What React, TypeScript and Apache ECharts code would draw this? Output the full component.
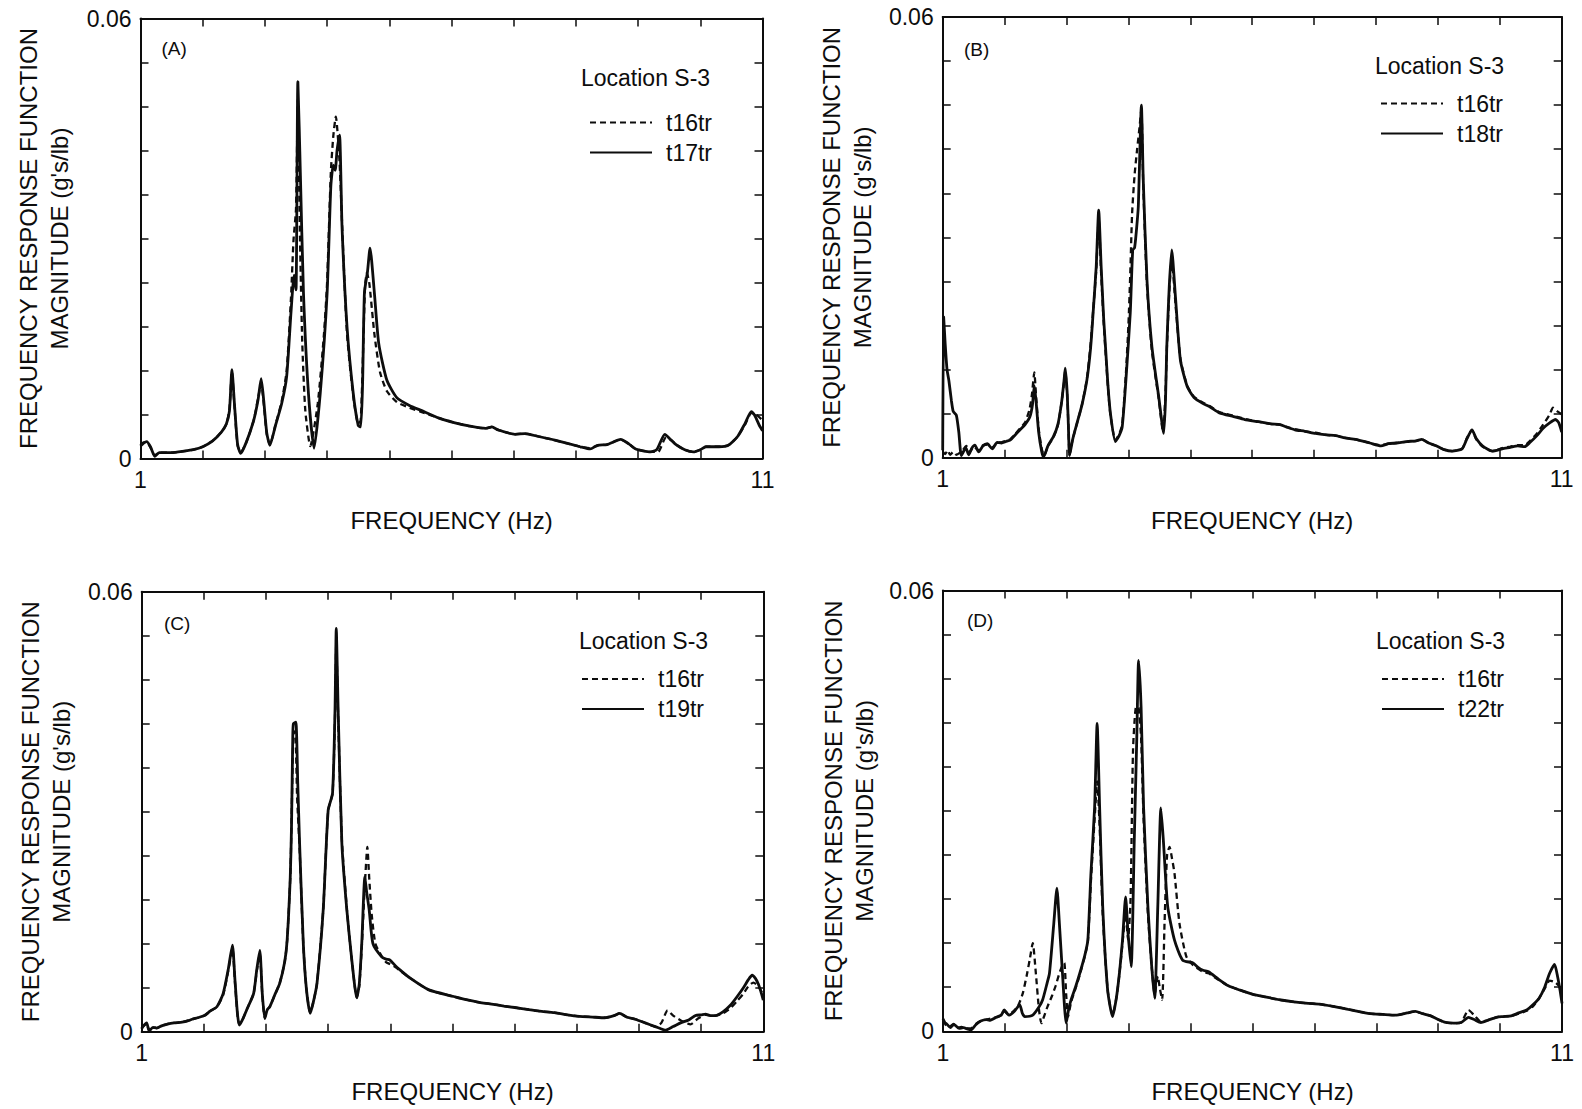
import React, { useEffect, useRef } from "react";
import * as echarts from "echarts";

const FONT = '"Liberation Sans", Arial, Helvetica, sans-serif';
const INK = "#0d0d0d";

// Axis ranges / ticks
const X_MIN = 1;
const X_MAX = 11;
const X_STEP = 1;
const X_LABELS = [1, 11];
const Y_MIN = 0;
const Y_MAX = 0.06;
const Y_STEP = 0.006;
const Y_LABELS = [0, 0.06];

const PANEL_TAGS = ["(A)", "(B)", "(C)", "(D)"];
const LOCATION = "Location S-3";
const REF_NAME = "t16tr";
const TEST_NAMES = ["t17tr", "t18tr", "t19tr", "t22tr"];

// ---------- Panel A ----------
const A_t16tr: [number, number][] = [
  [1.0, 0.0018], [1.05, 0.0022], [1.1, 0.0022], [1.16, 0.0015], [1.23, 0.0004], [1.3, 0.0008],
  [1.5, 0.0008], [1.7, 0.001], [1.85, 0.0012], [2.0, 0.0016], [2.16, 0.0024], [2.3, 0.0036],
  [2.38, 0.0047], [2.43, 0.0068], [2.47, 0.0118], [2.51, 0.0072], [2.56, 0.0018], [2.61, 0.0008],
  [2.7, 0.0022], [2.82, 0.0052], [2.89, 0.0082], [2.94, 0.0103], [2.98, 0.0076], [3.03, 0.0033],
  [3.08, 0.0019], [3.17, 0.0046], [3.27, 0.0078], [3.35, 0.012], [3.42, 0.022], [3.46, 0.0298],
  [3.5, 0.034], [3.53, 0.049], [3.56, 0.032], [3.6, 0.016], [3.65, 0.0065], [3.73, 0.0017],
  [3.85, 0.0075], [3.95, 0.017], [4.0, 0.024], [4.06, 0.039], [4.1, 0.044], [4.14, 0.0466],
  [4.2, 0.0405], [4.25, 0.03], [4.32, 0.017], [4.42, 0.0085], [4.5, 0.0048], [4.54, 0.0052],
  [4.58, 0.015], [4.61, 0.0235], [4.64, 0.0253], [4.68, 0.0238], [4.76, 0.017], [4.85, 0.0118],
  [4.96, 0.0092], [5.12, 0.0077], [5.33, 0.0069], [5.5, 0.0064], [5.8, 0.0055], [6.04, 0.0049],
  [6.3, 0.0044], [6.55, 0.0041], [6.65, 0.0043], [6.75, 0.0039], [7.02, 0.0033], [7.18, 0.0034],
  [7.4, 0.003], [7.66, 0.0025], [8.07, 0.0016], [8.23, 0.0014], [8.35, 0.0018], [8.5, 0.0019],
  [8.72, 0.0026], [8.85, 0.002], [8.96, 0.0013], [9.2, 0.0009], [9.32, 0.0009], [9.45, 0.0029],
  [9.55, 0.0024], [9.61, 0.0019], [9.75, 0.0012], [9.89, 0.0009], [10.0, 0.0012], [10.09, 0.0016],
  [10.3, 0.0016], [10.45, 0.0018], [10.6, 0.003], [10.72, 0.0046], [10.82, 0.0062], [10.9, 0.006],
  [11.0, 0.0052],
];
const A_t17tr: [number, number][] = [
  [1.0, 0.0017], [1.05, 0.0021], [1.1, 0.0023], [1.16, 0.0016], [1.23, 0.0003], [1.3, 0.0008],
  [1.5, 0.0008], [1.7, 0.001], [1.85, 0.0012], [2.0, 0.0016], [2.16, 0.0024], [2.3, 0.0036],
  [2.38, 0.0047], [2.43, 0.0065], [2.47, 0.0121], [2.51, 0.0075], [2.56, 0.002], [2.61, 0.0007],
  [2.7, 0.0022], [2.82, 0.0052], [2.89, 0.008], [2.94, 0.0109], [2.98, 0.008], [3.03, 0.0035],
  [3.08, 0.0018], [3.17, 0.0045], [3.27, 0.0075], [3.35, 0.0112], [3.42, 0.02], [3.47, 0.025],
  [3.5, 0.023], [3.53, 0.0514], [3.57, 0.0389], [3.62, 0.0226], [3.7, 0.0089], [3.79, 0.0014],
  [3.89, 0.0089], [4.0, 0.0225], [4.06, 0.0371], [4.1, 0.04], [4.13, 0.0393], [4.16, 0.042],
  [4.2, 0.0441], [4.24, 0.0316], [4.32, 0.018], [4.42, 0.0089], [4.5, 0.0045], [4.54, 0.0043],
  [4.57, 0.01], [4.6, 0.0226], [4.65, 0.0255], [4.69, 0.0287], [4.76, 0.0226], [4.83, 0.0157],
  [4.96, 0.0107], [5.12, 0.0083], [5.33, 0.0072], [5.5, 0.0066], [5.8, 0.0055], [6.04, 0.0049],
  [6.3, 0.0044], [6.55, 0.0041], [6.65, 0.0043], [6.75, 0.0039], [7.02, 0.0033], [7.18, 0.0034],
  [7.4, 0.003], [7.66, 0.0025], [8.07, 0.0016], [8.23, 0.0013], [8.35, 0.0018], [8.5, 0.0019],
  [8.72, 0.0026], [8.85, 0.002], [8.96, 0.0013], [9.2, 0.0009], [9.3, 0.0012], [9.43, 0.0033],
  [9.52, 0.0026], [9.61, 0.0019], [9.75, 0.0012], [9.89, 0.0009], [10.0, 0.0012], [10.09, 0.0016],
  [10.3, 0.0016], [10.45, 0.0018], [10.6, 0.003], [10.72, 0.0048], [10.82, 0.0064], [10.88, 0.0058],
  [10.95, 0.0045], [11.0, 0.0038],
];

// ---------- Panel B ----------
const B_t16tr: [number, number][] = [
  [1.0, 0.0008], [1.04, 0.0005], [1.08, 0.001], [1.12, 0.0004], [1.17, 0.0008], [1.22, 0.0004],
  [1.28, 0.0007], [1.33, 0.0011], [1.38, 0.0016], [1.44, 0.0008], [1.5, 0.0015], [1.58, 0.001],
  [1.65, 0.0017], [1.72, 0.0018], [1.8, 0.0014], [1.88, 0.002], [1.95, 0.0021], [2.02, 0.0023],
  [2.09, 0.0025], [2.17, 0.0032], [2.25, 0.004], [2.33, 0.0048], [2.4, 0.0065], [2.44, 0.0085],
  [2.48, 0.0116], [2.51, 0.0082], [2.55, 0.004], [2.6, 0.0012], [2.64, 0.0003], [2.7, 0.0016],
  [2.79, 0.0028], [2.86, 0.0044], [2.92, 0.0075], [2.96, 0.0102], [2.98, 0.0118], [3.01, 0.0088],
  [3.03, 0.0045], [3.05, 0.0004], [3.1, 0.0025], [3.17, 0.0047], [3.25, 0.0072], [3.33, 0.0108],
  [3.39, 0.0155], [3.43, 0.02], [3.48, 0.0255], [3.52, 0.0325], [3.56, 0.025], [3.6, 0.0185],
  [3.63, 0.0145], [3.67, 0.0095], [3.71, 0.0058], [3.79, 0.0024], [3.85, 0.0032], [3.9, 0.0045],
  [3.96, 0.0115], [4.0, 0.018], [4.03, 0.025], [4.06, 0.0333], [4.1, 0.0385], [4.14, 0.0419],
  [4.18, 0.045], [4.21, 0.0475], [4.24, 0.037], [4.3, 0.0235], [4.38, 0.0145], [4.49, 0.008],
  [4.56, 0.0035], [4.6, 0.009], [4.62, 0.0145], [4.66, 0.0225], [4.7, 0.027], [4.76, 0.021],
  [4.84, 0.0135], [4.95, 0.0098], [5.06, 0.0083], [5.2, 0.0075], [5.32, 0.007], [5.47, 0.0062],
  [5.7, 0.0057], [5.88, 0.0053], [6.1, 0.0049], [6.3, 0.0046], [6.45, 0.0045], [6.55, 0.0042],
  [6.69, 0.0039], [6.85, 0.0036], [7.02, 0.0034], [7.2, 0.0031], [7.35, 0.003], [7.5, 0.0027],
  [7.67, 0.0025], [7.9, 0.002], [8.08, 0.0017], [8.2, 0.0019], [8.33, 0.002], [8.5, 0.0022],
  [8.65, 0.0023], [8.74, 0.0025], [8.85, 0.002], [8.98, 0.0016], [9.1, 0.0011], [9.23, 0.0009],
  [9.39, 0.0012], [9.47, 0.0027], [9.55, 0.0038], [9.62, 0.0025], [9.72, 0.0015], [9.88, 0.0009],
  [10.04, 0.0013], [10.17, 0.0015], [10.29, 0.0017], [10.4, 0.0017], [10.5, 0.0024], [10.6, 0.0033],
  [10.7, 0.0045], [10.8, 0.0058], [10.86, 0.0068], [10.93, 0.0063], [11.0, 0.0059],
];
const B_t18tr: [number, number][] = [
  [1.0, 0.001], [1.015, 0.0192], [1.04, 0.0155], [1.07, 0.012], [1.1, 0.0105], [1.14, 0.0078],
  [1.17, 0.0063], [1.22, 0.0058], [1.26, 0.0035], [1.3, 0.0003], [1.34, 0.0009], [1.37, 0.0014],
  [1.42, 0.0004], [1.47, 0.0013], [1.52, 0.0017], [1.58, 0.0008], [1.65, 0.0016], [1.72, 0.0019],
  [1.8, 0.0012], [1.88, 0.0021], [1.95, 0.002], [2.02, 0.0022], [2.09, 0.0024], [2.17, 0.0031],
  [2.25, 0.0038], [2.33, 0.0045], [2.41, 0.0056], [2.45, 0.0072], [2.48, 0.0098], [2.51, 0.0075],
  [2.55, 0.0035], [2.6, 0.0008], [2.63, 0.0001], [2.7, 0.0016], [2.79, 0.0029], [2.86, 0.0045],
  [2.92, 0.0075], [2.96, 0.0105], [2.98, 0.0122], [3.01, 0.009], [3.03, 0.0045], [3.05, 0.0003],
  [3.1, 0.0025], [3.17, 0.0047], [3.25, 0.0072], [3.33, 0.0106], [3.39, 0.015], [3.43, 0.0197],
  [3.48, 0.026], [3.52, 0.0337], [3.56, 0.026], [3.6, 0.019], [3.63, 0.0151], [3.67, 0.0098],
  [3.71, 0.006], [3.79, 0.0022], [3.85, 0.003], [3.9, 0.0042], [3.96, 0.0106], [4.03, 0.0197],
  [4.07, 0.0283], [4.1, 0.0286], [4.13, 0.031], [4.16, 0.0342], [4.21, 0.048], [4.24, 0.0378],
  [4.3, 0.0242], [4.38, 0.0151], [4.49, 0.0083], [4.57, 0.0033], [4.6, 0.008], [4.62, 0.0151],
  [4.66, 0.0233], [4.7, 0.0283], [4.76, 0.0219], [4.84, 0.0133], [4.95, 0.0097], [5.06, 0.0082],
  [5.2, 0.0074], [5.32, 0.0069], [5.47, 0.0061], [5.7, 0.0056], [5.88, 0.0052], [6.1, 0.0049],
  [6.3, 0.0046], [6.45, 0.0045], [6.55, 0.0042], [6.69, 0.0038], [6.85, 0.0036], [7.02, 0.0033],
  [7.2, 0.0031], [7.35, 0.003], [7.5, 0.0027], [7.67, 0.0025], [7.9, 0.002], [8.08, 0.0016],
  [8.2, 0.0019], [8.33, 0.002], [8.5, 0.0022], [8.65, 0.0023], [8.74, 0.0025], [8.85, 0.002],
  [8.98, 0.0016], [9.1, 0.0011], [9.23, 0.0009], [9.39, 0.0012], [9.47, 0.0026], [9.55, 0.0038],
  [9.62, 0.0026], [9.72, 0.0016], [9.88, 0.0009], [10.04, 0.0012], [10.17, 0.0014], [10.29, 0.0016],
  [10.4, 0.0015], [10.49, 0.0021], [10.6, 0.003], [10.7, 0.004], [10.8, 0.0047], [10.9, 0.0052],
  [10.95, 0.0048], [11.0, 0.0035],
];

// ---------- Panel C ----------
const C_t16tr: [number, number][] = [
  [1.0, 0.0005], [1.03, 0.0008], [1.08, 0.0011], [1.12, 0.0002], [1.18, 0.0006], [1.24, 0.0005],
  [1.32, 0.0008], [1.4, 0.001], [1.52, 0.0012], [1.65, 0.0013], [1.75, 0.0015], [1.81, 0.0017],
  [1.9, 0.0019], [2.01, 0.0022], [2.1, 0.0028], [2.21, 0.0034], [2.31, 0.005], [2.39, 0.0082],
  [2.46, 0.0113], [2.5, 0.0068], [2.54, 0.0024], [2.57, 0.001], [2.62, 0.0016], [2.69, 0.003],
  [2.8, 0.0052], [2.85, 0.0082], [2.9, 0.0106], [2.94, 0.005], [2.98, 0.0019], [3.02, 0.003],
  [3.06, 0.0034], [3.14, 0.005], [3.22, 0.0066], [3.3, 0.0095], [3.34, 0.0125], [3.39, 0.021],
  [3.41, 0.0284], [3.44, 0.0405], [3.47, 0.041], [3.5, 0.032], [3.54, 0.025], [3.6, 0.0118],
  [3.65, 0.0058], [3.71, 0.0026], [3.76, 0.004], [3.82, 0.0066], [3.92, 0.0166], [4.0, 0.0302],
  [4.07, 0.0325], [4.11, 0.043], [4.13, 0.053], [4.16, 0.043], [4.22, 0.0262], [4.3, 0.0168],
  [4.38, 0.0098], [4.46, 0.0047], [4.5, 0.0062], [4.54, 0.0115], [4.59, 0.02], [4.63, 0.0252],
  [4.66, 0.021], [4.7, 0.016], [4.76, 0.012], [4.86, 0.0103], [4.93, 0.0095], [5.0, 0.0092],
  [5.08, 0.0088], [5.16, 0.0083], [5.32, 0.0073], [5.62, 0.0057], [6.02, 0.0048], [6.2, 0.0044],
  [6.43, 0.004], [6.6, 0.0038], [6.83, 0.0035], [7.0, 0.0033], [7.23, 0.003], [7.4, 0.0028],
  [7.64, 0.0026], [7.85, 0.0023], [8.04, 0.0021], [8.25, 0.002], [8.45, 0.0019], [8.6, 0.0022],
  [8.69, 0.0025], [8.8, 0.002], [8.94, 0.0017], [9.1, 0.0012], [9.26, 0.0007], [9.36, 0.0012],
  [9.46, 0.0029], [9.55, 0.0022], [9.68, 0.0015], [9.83, 0.001], [9.95, 0.0018], [10.07, 0.0023],
  [10.15, 0.0022], [10.23, 0.0022], [10.35, 0.0025], [10.47, 0.0032], [10.58, 0.0042], [10.68, 0.0052],
  [10.76, 0.0062], [10.84, 0.0067], [10.92, 0.0062], [11.0, 0.005],
];
const C_t19tr: [number, number][] = [
  [1.0, 0.0004], [1.02, 0.0007], [1.08, 0.0012], [1.12, 0.0001], [1.18, 0.0006], [1.24, 0.0005],
  [1.32, 0.0008], [1.4, 0.001], [1.52, 0.0012], [1.65, 0.0013], [1.75, 0.0015], [1.81, 0.0017],
  [1.9, 0.0019], [2.01, 0.0022], [2.1, 0.0028], [2.21, 0.0034], [2.31, 0.0052], [2.39, 0.0084],
  [2.46, 0.0118], [2.5, 0.0071], [2.54, 0.0025], [2.57, 0.0009], [2.62, 0.0016], [2.69, 0.003],
  [2.8, 0.0052], [2.85, 0.0084], [2.9, 0.0111], [2.94, 0.0052], [2.98, 0.0018], [3.02, 0.003],
  [3.06, 0.0034], [3.14, 0.005], [3.22, 0.0066], [3.3, 0.0095], [3.34, 0.0125], [3.39, 0.0211],
  [3.41, 0.028], [3.43, 0.04], [3.44, 0.042], [3.48, 0.0422], [3.51, 0.034], [3.54, 0.0257],
  [3.6, 0.012], [3.65, 0.0058], [3.71, 0.0025], [3.76, 0.004], [3.82, 0.0066], [3.92, 0.0166],
  [4.0, 0.0302], [4.07, 0.0325], [4.11, 0.0439], [4.13, 0.055], [4.16, 0.044], [4.22, 0.0257],
  [4.3, 0.0166], [4.38, 0.0098], [4.46, 0.0046], [4.5, 0.0065], [4.54, 0.012], [4.59, 0.0211],
  [4.62, 0.019], [4.66, 0.0166], [4.72, 0.012], [4.86, 0.0102], [4.93, 0.0099], [4.99, 0.0098],
  [5.08, 0.009], [5.16, 0.0084], [5.32, 0.0073], [5.62, 0.0057], [6.02, 0.0048], [6.2, 0.0044],
  [6.43, 0.004], [6.6, 0.0038], [6.83, 0.0035], [7.0, 0.0033], [7.23, 0.003], [7.4, 0.0028],
  [7.64, 0.0026], [7.85, 0.0023], [8.04, 0.0021], [8.25, 0.002], [8.45, 0.0019], [8.6, 0.0022],
  [8.69, 0.0025], [8.8, 0.002], [8.94, 0.0017], [9.1, 0.0012], [9.26, 0.0007], [9.35, 0.0004],
  [9.42, 0.0002], [9.55, 0.0007], [9.67, 0.0012], [9.8, 0.0016], [9.91, 0.0022], [10.0, 0.0023],
  [10.07, 0.0024], [10.15, 0.0022], [10.23, 0.0022], [10.35, 0.0027], [10.47, 0.0036], [10.58, 0.0048],
  [10.68, 0.006], [10.76, 0.0071], [10.82, 0.0077], [10.87, 0.0073], [10.92, 0.0065], [10.96, 0.0055],
  [11.0, 0.0043],
];

// ---------- Panel D ----------
const D_t16tr: [number, number][] = [
  [1.0, 0.0015], [1.05, 0.0008], [1.1, 0.0006], [1.17, 0.001], [1.23, 0.0005], [1.3, 0.0006],
  [1.38, 0.0004], [1.45, 0.0004], [1.53, 0.001], [1.61, 0.0014], [1.7, 0.0016], [1.8, 0.0018],
  [1.9, 0.002], [1.99, 0.0027], [2.05, 0.0024], [2.12, 0.0026], [2.2, 0.0033], [2.24, 0.004],
  [2.29, 0.0052], [2.35, 0.0075], [2.4, 0.0097], [2.45, 0.012], [2.5, 0.0079], [2.55, 0.003],
  [2.59, 0.0011], [2.64, 0.0022], [2.69, 0.0034], [2.76, 0.0048], [2.82, 0.0062], [2.88, 0.0079],
  [2.93, 0.009], [2.96, 0.0093], [2.99, 0.005], [3.02, 0.002], [3.07, 0.004], [3.14, 0.0058],
  [3.21, 0.0077], [3.29, 0.0102], [3.34, 0.0122], [3.39, 0.0205], [3.45, 0.029], [3.49, 0.034],
  [3.53, 0.028], [3.58, 0.016], [3.66, 0.0056], [3.74, 0.0022], [3.8, 0.0045], [3.85, 0.0078],
  [3.9, 0.012], [3.95, 0.016], [3.99, 0.0125], [4.03, 0.018], [4.07, 0.0383], [4.12, 0.0442],
  [4.16, 0.044], [4.2, 0.04], [4.24, 0.029], [4.31, 0.016], [4.37, 0.009], [4.42, 0.005],
  [4.47, 0.0075], [4.5, 0.006], [4.54, 0.0043], [4.58, 0.015], [4.62, 0.024], [4.66, 0.0251],
  [4.7, 0.0235], [4.74, 0.0215], [4.82, 0.0147], [4.93, 0.0102], [5.04, 0.009], [5.2, 0.0081],
  [5.29, 0.0079], [5.45, 0.007], [5.61, 0.0062], [5.8, 0.0056], [6.02, 0.005], [6.2, 0.0047],
  [6.43, 0.0043], [6.67, 0.004], [6.9, 0.0038], [7.08, 0.0037], [7.3, 0.0034], [7.49, 0.0031],
  [7.7, 0.0027], [7.9, 0.0024], [8.1, 0.0023], [8.31, 0.0022], [8.5, 0.0025], [8.63, 0.0027],
  [8.75, 0.0024], [8.88, 0.0021], [9.0, 0.0016], [9.12, 0.0012], [9.25, 0.0011], [9.37, 0.0012],
  [9.49, 0.0029], [9.58, 0.0022], [9.69, 0.0013], [9.8, 0.0015], [9.94, 0.0019], [10.05, 0.002],
  [10.18, 0.0021], [10.3, 0.0024], [10.43, 0.0028], [10.53, 0.0034], [10.63, 0.0045], [10.72, 0.0058],
  [10.8, 0.0069], [10.88, 0.0067], [10.95, 0.0062], [11.0, 0.0055],
];
const D_t22tr: [number, number][] = [
  [1.0, 0.0017], [1.03, 0.0012], [1.06, 0.001], [1.12, 0.0005], [1.17, 0.0009], [1.2, 0.0008],
  [1.26, 0.0004], [1.33, 0.0005], [1.4, 0.0003], [1.45, 0.0002], [1.53, 0.0009], [1.61, 0.0014],
  [1.7, 0.0016], [1.75, 0.0015], [1.86, 0.0019], [1.94, 0.0022], [1.99, 0.0029], [2.04, 0.0024],
  [2.07, 0.0022], [2.15, 0.0027], [2.24, 0.0036], [2.28, 0.0025], [2.32, 0.002], [2.45, 0.0022],
  [2.55, 0.0033], [2.61, 0.0043], [2.68, 0.0065], [2.72, 0.0079], [2.79, 0.0147], [2.84, 0.0195],
  [2.88, 0.0147], [2.93, 0.0079], [2.99, 0.0011], [3.03, 0.003], [3.07, 0.0043], [3.14, 0.006],
  [3.21, 0.0079], [3.29, 0.0103], [3.34, 0.0124], [3.39, 0.0215], [3.45, 0.0306], [3.49, 0.0419],
  [3.53, 0.0306], [3.58, 0.017], [3.66, 0.0056], [3.74, 0.002], [3.8, 0.0045], [3.85, 0.0079],
  [3.9, 0.0124], [3.95, 0.0183], [3.99, 0.0133], [4.04, 0.0088], [4.09, 0.026], [4.13, 0.0397],
  [4.16, 0.0505], [4.2, 0.0442], [4.24, 0.0306], [4.31, 0.017], [4.37, 0.009], [4.42, 0.0045],
  [4.47, 0.017], [4.52, 0.0304], [4.56, 0.026], [4.63, 0.017], [4.74, 0.0124], [4.87, 0.0097],
  [5.04, 0.0093], [5.12, 0.0087], [5.2, 0.0083], [5.29, 0.0081], [5.45, 0.0071], [5.61, 0.0062],
  [5.8, 0.0056], [6.02, 0.005], [6.2, 0.0047], [6.43, 0.0043], [6.67, 0.004], [6.9, 0.0038],
  [7.08, 0.0037], [7.3, 0.0034], [7.49, 0.0031], [7.7, 0.0027], [7.9, 0.0024], [8.1, 0.0023],
  [8.31, 0.0022], [8.5, 0.0025], [8.63, 0.0027], [8.75, 0.0024], [8.88, 0.0021], [9.0, 0.0016],
  [9.12, 0.0012], [9.25, 0.0011], [9.37, 0.0012], [9.49, 0.0019], [9.58, 0.0016], [9.69, 0.0012],
  [9.8, 0.0015], [9.94, 0.0019], [10.05, 0.002], [10.18, 0.0021], [10.3, 0.0025], [10.43, 0.0029],
  [10.53, 0.0036], [10.63, 0.0045], [10.72, 0.006], [10.8, 0.0079], [10.88, 0.0091], [10.93, 0.0074],
  [10.97, 0.0055], [11.0, 0.0038],
];

const REF_SERIES = [A_t16tr, B_t16tr, C_t16tr, D_t16tr];
const TEST_SERIES = [A_t17tr, B_t18tr, C_t19tr, D_t22tr];

// Layout (pixels) for each of the four panels
const LAYOUT = [
  { grid: { left: 140.5, top: 18.5, width: 622, height: 440 }, yGap: 65.5, xGap: 50,
    legend: { left: 589, top: 110.5 }, loc: { left: 581, top: 65.5 }, tag: { left: 161.5, top: 38.5 } },
  { grid: { left: 942.7, top: 17, width: 619, height: 440.7 }, yGap: 65, xGap: 51,
    legend: { left: 1380, top: 91.5 }, loc: { left: 1375, top: 53.5 }, tag: { left: 964, top: 39.5 } },
  { grid: { left: 141.7, top: 591.7, width: 621.6, height: 440 }, yGap: 64.5, xGap: 48,
    legend: { left: 581, top: 667 }, loc: { left: 579, top: 628.5 }, tag: { left: 164, top: 613 } },
  { grid: { left: 943, top: 590.5, width: 619, height: 440.8 }, yGap: 63.5, xGap: 48,
    legend: { left: 1381, top: 667 }, loc: { left: 1376, top: 628.5 }, tag: { left: 967, top: 610.5 } },
];

function buildOption(): any {
  const grids: any[] = [];
  const xAxes: any[] = [];
  const yAxes: any[] = [];
  const series: any[] = [];
  const legends: any[] = [];
  const titles: any[] = [];

  const line = { show: true, onZero: false, lineStyle: { color: INK, width: 2 } };
  const tick = { show: true, inside: true, length: 8, lineStyle: { color: INK, width: 1.5 } };

  LAYOUT.forEach((l, i) => {
    grids.push({ ...l.grid, containLabel: false, show: false });

    xAxes.push({
      type: "value", gridIndex: i, position: "bottom",
      min: X_MIN, max: X_MAX, interval: X_STEP,
      name: "FREQUENCY (Hz)", nameLocation: "middle", nameGap: l.xGap,
      nameTextStyle: { fontFamily: FONT, fontSize: 24, color: INK, lineHeight: 24 },
      axisLine: line, axisTick: tick, splitLine: { show: false },
      axisLabel: {
        show: true, margin: 10, fontFamily: FONT, fontSize: 23, color: INK,
        showMinLabel: true, showMaxLabel: true,
        formatter: (v: number) => (X_LABELS.some((t) => Math.abs(t - v) < 1e-9) ? String(v) : ""),
      },
    });
    xAxes.push({
      type: "value", gridIndex: i, position: "top",
      min: X_MIN, max: X_MAX, interval: X_STEP,
      axisLine: line, axisTick: tick, splitLine: { show: false }, axisLabel: { show: false },
    });

    yAxes.push({
      type: "value", gridIndex: i, position: "left",
      min: Y_MIN, max: Y_MAX, interval: Y_STEP,
      name: "FREQUENCY RESPONSE FUNCTION\nMAGNITUDE (g's/lb)",
      nameLocation: "middle", nameRotate: 90, nameGap: l.yGap,
      nameTextStyle: { fontFamily: FONT, fontSize: 24, color: INK, lineHeight: 31, align: "center" },
      axisLine: line, axisTick: tick, splitLine: { show: false },
      axisLabel: {
        show: true, margin: 9, fontFamily: FONT, fontSize: 23, color: INK,
        showMinLabel: true, showMaxLabel: true,
        formatter: (v: number) => {
          const hit = Y_LABELS.find((t) => Math.abs(t - v) < 1e-9);
          return hit === undefined ? "" : String(hit);
        },
      },
    });
    yAxes.push({
      type: "value", gridIndex: i, position: "right",
      min: Y_MIN, max: Y_MAX, interval: Y_STEP,
      axisLine: line, axisTick: tick, splitLine: { show: false }, axisLabel: { show: false },
    });

    series.push({
      name: REF_NAME, type: "line", xAxisIndex: 2 * i, yAxisIndex: 2 * i,
      data: REF_SERIES[i], symbol: "none", showSymbol: false, clip: true, z: 2,
      smooth: 0.2,
      lineStyle: { color: INK, width: 2.3, type: [6, 4] },
      itemStyle: { color: INK },
    });
    series.push({
      name: TEST_NAMES[i], type: "line", xAxisIndex: 2 * i, yAxisIndex: 2 * i,
      data: TEST_SERIES[i], symbol: "none", showSymbol: false, clip: true, z: 3,
      smooth: 0.2,
      lineStyle: { color: INK, width: 2.8, type: "solid" },
      itemStyle: { color: INK },
    });

    legends.push({
      data: [REF_NAME, TEST_NAMES[i]], orient: "vertical",
      left: l.legend.left, top: l.legend.top, padding: 0,
      itemWidth: 62, itemHeight: 2, itemGap: 6, selectedMode: false,
      itemStyle: { opacity: 0 },
      textStyle: { fontFamily: FONT, fontSize: 23, color: INK, lineHeight: 24, padding: [0, 0, 0, 9] },
    });

    titles.push({
      text: LOCATION, left: l.loc.left, top: l.loc.top, padding: 0,
      textStyle: { fontFamily: FONT, fontSize: 23, fontWeight: "normal", color: INK, lineHeight: 24 },
    });
    titles.push({
      text: PANEL_TAGS[i], left: l.tag.left, top: l.tag.top, padding: 0,
      textStyle: { fontFamily: FONT, fontSize: 19, fontWeight: "normal", color: INK, lineHeight: 20 },
    });
  });

  return {
    animation: false,
    backgroundColor: "#ffffff",
    textStyle: { fontFamily: FONT },
    title: titles,
    legend: legends,
    grid: grids,
    xAxis: xAxes,
    yAxis: yAxes,
    series,
  };
}

export default function App() {
  const ref = useRef<HTMLDivElement>(null);
  useEffect(() => {
    if (!ref.current) return;
    const chart = echarts.init(ref.current, undefined, { renderer: "svg" });
    chart.setOption(buildOption());
    return () => chart.dispose();
  }, []);
  return (
    <div
      ref={ref}
      style={{ position: "absolute", left: 0, top: 0, width: 1582, height: 1109, background: "#fff" }}
    />
  );
}
